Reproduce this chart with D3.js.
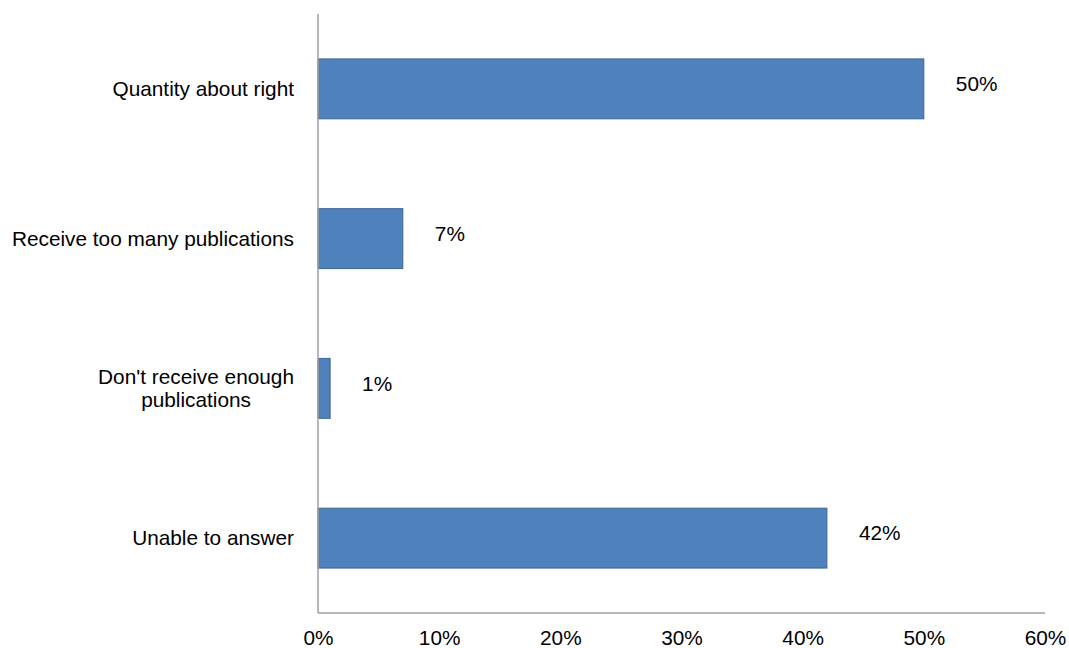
<!DOCTYPE html>
<html>
<head>
<meta charset="utf-8">
<script src="https://cdnjs.cloudflare.com/ajax/libs/d3/7.8.5/d3.min.js"></script>
<style>
  body { margin: 0; background: #fff; }
  text { font-family: "Liberation Sans", Arial, sans-serif; fill: #000; }
</style>
</head>
<body>
<div id="chart"></div>
<script>
// data
var categories = ["Quantity about right", "Receive too many publications", "Don't receive enough\npublications", "Unable to answer"];
var values = [50, 7, 1, 42];
var xTicks = [0, 10, 20, 30, 40, 50, 60];

var width = 1069, height = 648;
var margin = { top: 14, right: 24, bottom: 35, left: 318 };
var w = width - margin.left - margin.right;
var h = height - margin.top - margin.bottom;
var fs = "20.8px";

var svg = d3.select("#chart").append("svg")
    .attr("width", width).attr("height", height);
var g = svg.append("g").attr("transform", "translate(" + margin.left + "," + margin.top + ")");

var x = d3.scaleLinear().domain([0, 60]).range([0, w]);
var y = d3.scaleBand().domain(categories).range([0, h]).padding(0);
var barH = y.bandwidth() * 0.4;

// bars
g.selectAll("rect.bar").data(values).enter().append("rect")
    .attr("class", "bar")
    .attr("x", x(0))
    .attr("y", function(d, i) { return y(categories[i]) + (y.bandwidth() - barH) / 2; })
    .attr("width", function(d) { return x(d) - x(0); })
    .attr("height", barH)
    .attr("fill", "#4f81bd")
    .attr("stroke", "#3c6796")
    .attr("stroke-width", 1);

// value labels
g.selectAll("text.val").data(values).enter().append("text")
    .attr("class", "val")
    .attr("x", function(d) { return x(d) + 32; })
    .attr("y", function(d, i) { return y(categories[i]) + y.bandwidth() / 2 - 5; })
    .attr("dy", "0.35em")
    .attr("font-size", fs)
    .text(function(d) { return d + "%"; });

// category labels (multi-line ones centred on their widest line)
g.selectAll("g.cat").data(categories).enter().append("g")
    .attr("class", "cat")
    .each(function(c) {
        var lines = c.split("\n");
        var sel = d3.select(this);
        var cy = y(c) + y.bandwidth() / 2;
        var lh = 23;
        var t = sel.selectAll("text").data(lines).enter().append("text")
            .attr("font-size", fs)
            .attr("y", function(d, i) { return cy + (i - (lines.length - 1) / 2) * lh; })
            .attr("dy", "0.35em")
            .text(function(d) { return d; });
        var maxW = 0;
        t.each(function() { maxW = Math.max(maxW, this.getComputedTextLength()); });
        t.attr("text-anchor", "middle").attr("x", -24 - maxW / 2);
    });

// axes
g.append("line").attr("x1", 0).attr("x2", 0).attr("y1", 0).attr("y2", h)
    .attr("stroke", "#a0a0a0").attr("stroke-width", 1.5);
g.append("line").attr("x1", 0).attr("x2", w).attr("y1", h).attr("y2", h)
    .attr("stroke", "#a0a0a0").attr("stroke-width", 1.5);

var xAxis = g.append("g").attr("transform", "translate(0," + h + ")")
    .call(d3.axisBottom(x).tickValues(xTicks).tickSize(0).tickPadding(17)
        .tickFormat(function(d) { return d + "%"; }));
xAxis.select(".domain").remove();
xAxis.selectAll("text").attr("font-size", fs).attr("font-family", "Liberation Sans, Arial, sans-serif").attr("fill", "#000");
</script>
</body>
</html>
